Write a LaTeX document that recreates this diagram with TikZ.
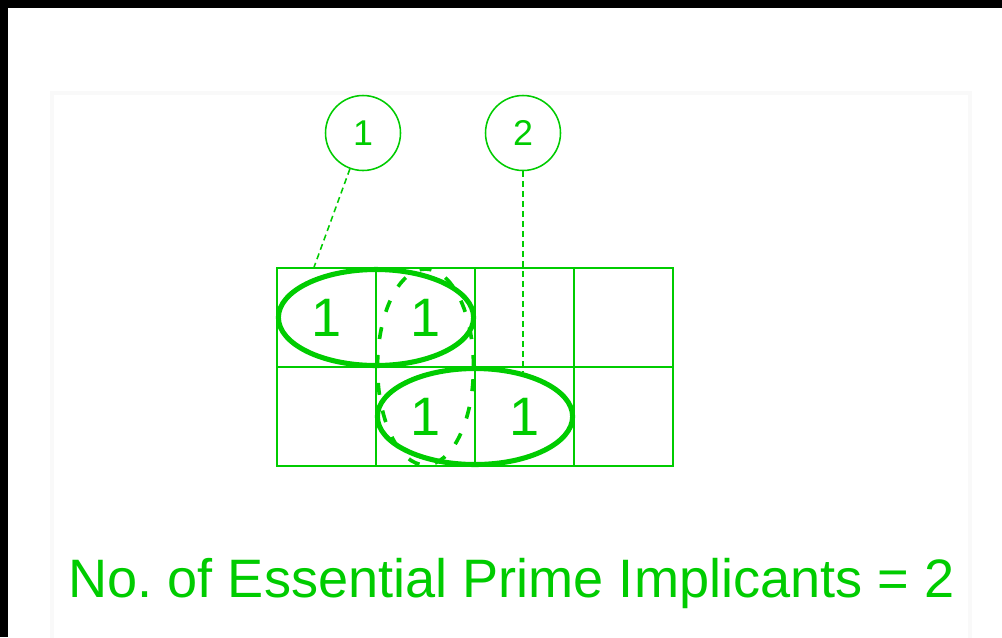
\documentclass[tikz,border=0pt]{standalone}
\usepackage{fontspec}
\setmainfont{Liberation Sans}
\usetikzlibrary{positioning,shapes.geometric}
\definecolor{kgreen}{RGB}{0,204,0}

\begin{document}
\begin{tikzpicture}[
    x=0.25mm, y=-0.25mm,
    node distance=0pt,
    every node/.style={text=kgreen},
    cell/.style={draw=kgreen, line width=1.4pt, minimum size=24.75mm, inner sep=0pt, outer sep=0pt, font=\fontsize{38.5}{40}\selectfont},
    tag/.style={draw=kgreen, circle, line width=1.1pt, minimum size=18.75mm, inner sep=0pt, font=\fontsize{25.5}{27}\selectfont},
    group/.style={draw=kgreen, ellipse, line width=3.6pt, inner sep=0pt, minimum width=48.8mm, minimum height=24mm},
    overlap/.style={draw=kgreen, ellipse, line width=2.6pt, dash pattern=on 3mm off 4mm, inner sep=0pt, minimum width=24mm, minimum height=49mm},
    leader/.style={draw=kgreen, line width=1.1pt, dash pattern=on 1.5mm off 1mm}
]
\useasboundingbox (0,0) rectangle (1002,637);
% page and panel
\fill[white] (0,0) rectangle (1002,637);
\fill[black] (0,0) rectangle (1002,8);
\fill[black] (0,0) rectangle (8,637);
\draw[black!2.5, line width=1mm] (52,93) rectangle (970,680);

% k-map
\node[cell] (m00) at (326.5,317.5) {1};
\node[cell, right=of m00] (m01) {1};
\node[cell, right=of m01] (m02) {};
\node[cell, right=of m02] (m03) {};
\node[cell, below=of m00] (m10) {};
\node[cell, right=of m10] (m11) {1};
\node[cell, right=of m11] (m12) {1};
\node[cell, right=of m12] (m13) {};

% groups
\node[overlap] (redundant) at (m01.south) {};
\node[group] (pair1) at (m00.east) {};
\node[group] (pair2) at (m11.east) {};

% labels
\node[tag] (tag1) at (363,133) {1};
\node[tag] (tag2) at (523,133) {2};
\coordinate (end1) at (313,270);
\coordinate (end2) at (523,372);
\draw[leader] (tag1) -- (end1);
\draw[leader] (tag2) -- (end2);

\node[anchor=base, font=\fontsize{38.5}{40}\selectfont] (result) at (511.5,597) {No.\ of Essential Prime Implicants = 2};
\end{tikzpicture}
\end{document}
